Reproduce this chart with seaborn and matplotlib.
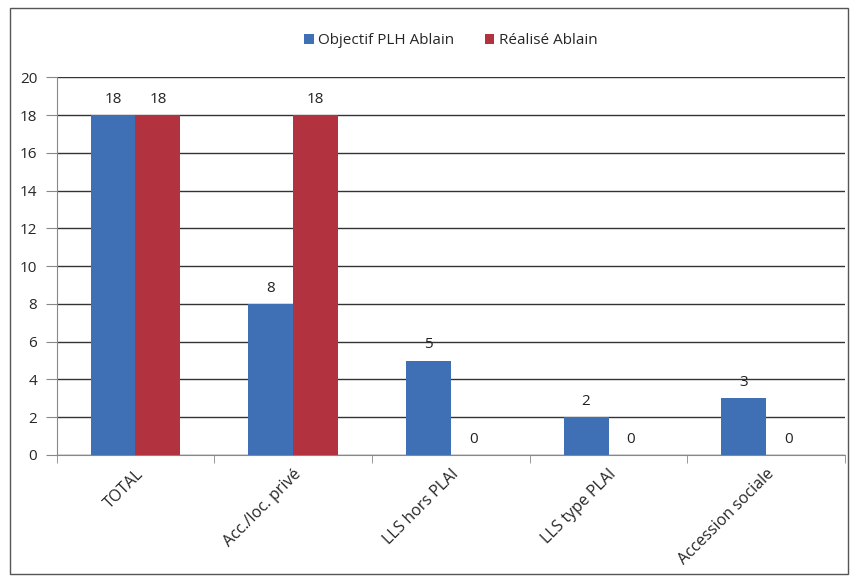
import matplotlib
matplotlib.use("Agg")
import matplotlib.pyplot as plt
import seaborn as sns
import pandas as pd
import numpy as np

# Données du graphique
categories = ["TOTAL", "Acc./loc. privé", "LLS hors PLAI", "LLS type PLAI", "Accession sociale"]
objectif = [18, 8, 5, 2, 3]
realise = [18, 18, 0, 0, 0]
series = ["Objectif PLH Ablain", "Réalisé Ablain"]

df = pd.DataFrame({
    "Catégorie": categories * 2,
    "Valeur": objectif + realise,
    "Série": [series[0]] * len(categories) + [series[1]] * len(categories),
})

sns.set_style("white")
plt.rcParams['font.family'] = ['Open Sans', 'DejaVu Sans']

fig = plt.figure(figsize=(8.58, 5.81), dpi=100)
ax = fig.add_axes([0.066, 0.217, 0.919, 0.650])

palette = {series[0]: "#3f6fb4", series[1]: "#b3323f"}
sns.barplot(data=df, x="Catégorie", y="Valeur", hue="Série", palette=palette,
            width=0.57, saturation=1, linewidth=0, ax=ax, zorder=3)

for c in ax.containers:
    ax.bar_label(c, fmt="%d", padding=6, fontsize=11, color="#222222")

ax.set_ylim(0, 20)
ax.set_yticks(range(0, 21, 2))
ax.set_xlim(-0.5, len(categories) - 0.5)
ax.yaxis.grid(True, color="#333333", linewidth=1.0, zorder=0)
ax.set_xlabel("")
ax.set_ylabel("")

for s in ["top", "right"]:
    ax.spines[s].set_visible(False)
ax.spines["left"].set_color("#888888")
ax.spines["bottom"].set_color("#888888")

ax.tick_params(axis="y", which="major", length=8, color="#888888", labelsize=11, pad=6, left=True)
ax.tick_params(axis="x", which="major", length=0, labelsize=11.5, pad=8)
ax.set_xticks(np.arange(-0.5, len(categories)), minor=True)
ax.tick_params(axis="x", which="minor", length=6, color="#888888", bottom=True)
for lab in ax.get_xticklabels():
    lab.set_rotation(45)
    lab.set_ha("right")
    lab.set_rotation_mode("anchor")

ax.legend(loc="lower center", bbox_to_anchor=(0.5, 1.04), ncol=2, frameon=False,
          fontsize=11, handlelength=0.6, handleheight=0.6, handletextpad=0.3, columnspacing=2.0)

# cadre autour du graphique
fig.patches.append(plt.Rectangle((0.012, 0.012), 0.976, 0.975, transform=fig.transFigure,
                                 fill=False, edgecolor="#555555", linewidth=1.0))

fig.savefig("out.png", dpi=100)
